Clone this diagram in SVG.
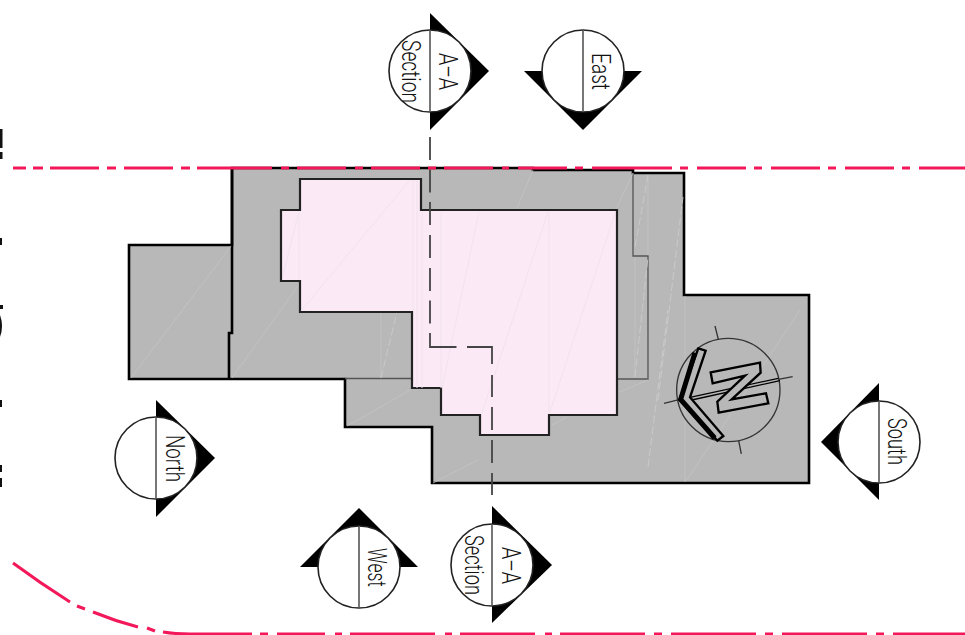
<svg xmlns="http://www.w3.org/2000/svg" width="965" height="635" viewBox="0 0 965 635">
<style>
.site{fill:#b8b8b8;stroke:#000;stroke-width:2.6;stroke-linejoin:miter}
.edge{fill:none;stroke:#000;stroke-width:2.6}
.inner{fill:none;stroke:#555;stroke-width:1.3}
.house{fill:#fbe9f6;stroke:#222;stroke-width:2.2}
.fg{fill:none;stroke:#c4c4c4;stroke-width:.8}
.fgd{fill:none;stroke:#cbcbcb;stroke-width:.9;stroke-dasharray:8 3}
.fp{fill:none;stroke:#f1e3ed;stroke-width:1}
.red{fill:none;stroke:#f2185a;stroke-width:3}
.cut{fill:none;stroke:#444;stroke-width:1.8}
.tri{fill:#000}
.disc{fill:#fff;stroke:#222;stroke-width:1.6}
.axis{stroke:#555;stroke-width:1.6}
text{font-family:"Roboto","Liberation Sans",sans-serif;font-weight:300;font-size:26px;fill:#111}
</style>
<g id="page-edge" fill="#111">
<rect x="0" y="129" width="2.500" height="19"/><rect x="0" y="152" width="2.500" height="7"/><rect x="0" y="238" width="2" height="7"/><rect x="0" y="305" width="3" height="4"/><path d="M0,315Q4,326 0,337Z"/><rect x="0" y="400" width="2" height="7"/><rect x="0" y="465" width="2" height="7"/><rect x="0" y="478" width="2" height="9"/>
</g>
<g id="site">
<path class="site" d="M232,168H533V170H633V173H684V295H809V483H432V427H345V379H129V245H232Z"/>
<path class="edge" d="M232,168V333H229V379"/>
<path class="inner" d="M633,173V256H648V379H617M345,378.500H412"/>
<path class="fg" d="M131,378L231,246M232,378L300,283M347,426L412,389M433,483L478,460M552,425L567,417M517,208L533,170M617,207L633,173M617,393L648,380M381,312V378M635,258V377M648,175V255M685,296V482M687,480L800,310"/>
<path class="fgd" d="M381,378L397,312M635,247L648,175M635,377L648,257M658,400L683,197M648,467L668,310"/>
</g>
<g id="house">
<path class="house" d="M300,179H421V210H617V415H549V435H480V415H441V388H412V312H300V281H281V210H300Z"/>
<path class="fp" d="M301,311L410,180M283,275L298,215M299,211V280M413,180V311M417,180V388M422,212V388M441,212V388M442,388L479,212M482,413L548,212M549,212V414M550,412L615,213"/>
</g>
<g id="connectors">
<path id="section-line" class="cut" d="M430,137V160M430,169.500V192.500M430,202V225M430,235V258M430,268V291M430,300.500V323.500M430,333V347H456.500M467,347H492V364M492,375V397M492,407V430M492,440V463M492,473V495"/>
<path id="boundary-top" class="red" d="M13,168H26M33,168H43M50,168H99M107,168H116M124,168H173M181,168H190M197,168H272M281,168H289M297,168H346M355,168H363M371,168H420M428,168H436M444,168H493M502,168H509M518,168H567M575,168H583M592,168H672M680,168H688M697,168H746M754,168H762M771,168H820M828,168H836M845,168H894M902,168H910M919,168H965"/>
<path id="boundary-bottom" class="red" d="M13,563Q40,583 70,602M77,606L85,609M93,612Q115,621 138,627M147,628L155,631M163,632Q175,634 190,634H252M260,634H268M277,634H325M335,634H342M350,634H435M445,634H452M460,634H535M545,634H552M560,634H645M654,634H662M671,634H756M765,634H773M782,634H867M876,634H884M893,634H965"/>
</g>
<g id="marker-section-top">
<path class="tri" d="M430,13L489,71L430,130Z"/><circle class="disc" cx="430" cy="71" r="41"/><path class="axis" d="M430,30V112"/>
<text transform="translate(402 40) rotate(90)" textLength="63" lengthAdjust="spacingAndGlyphs">Section</text>
<text transform="translate(439 53) rotate(90)" textLength="37" lengthAdjust="spacingAndGlyphs">A–A</text>
</g>
<g id="marker-east">
<path class="tri" d="M524,71H642L583,130Z"/><circle class="disc" cx="583" cy="71" r="41"/><path class="axis" d="M583,30V112"/>
<text transform="translate(592 53) rotate(90)" textLength="37" lengthAdjust="spacingAndGlyphs">East</text>
</g>
<g id="marker-north">
<path class="tri" d="M156,400L215,458L156,517Z"/><circle class="disc" cx="156" cy="458" r="41"/><path class="axis" d="M156,417V499"/>
<text transform="translate(166 435) rotate(90)" textLength="47" lengthAdjust="spacingAndGlyphs">North</text>
</g>
<g id="marker-west">
<path class="tri" d="M300,567L359,508L418,567Z"/><circle class="disc" cx="359" cy="567" r="41"/><path class="axis" d="M359,526V608"/>
<text transform="translate(368 548) rotate(90)" textLength="39" lengthAdjust="spacingAndGlyphs">West</text>
</g>
<g id="marker-section-bottom">
<path class="tri" d="M492,506L552,565L492,623Z"/><circle class="disc" cx="492" cy="565" r="41"/><path class="axis" d="M492,524V606"/>
<text transform="translate(465 535) rotate(90)" textLength="60" lengthAdjust="spacingAndGlyphs">Section</text>
<text transform="translate(502 547) rotate(90)" textLength="37" lengthAdjust="spacingAndGlyphs">A–A</text>
</g>
<g id="marker-south">
<path class="tri" d="M879,383L821,442L879,500Z"/><circle class="disc" cx="879" cy="442" r="41"/><path class="axis" d="M879,401V483"/>
<text transform="translate(888 418) rotate(90)" textLength="47" lengthAdjust="spacingAndGlyphs">South</text>
</g>
<g id="north-point" transform="translate(640 310) scale(.3333)">
<circle cx="265" cy="240" r="155" fill="none" stroke="#333" stroke-width="4"/>
<path fill="none" stroke="#333" stroke-width="4" d="M225,48L235,88M296,392L304,432M72,280L120,268M415,208L458,200"/>
<path fill="none" stroke="#000" stroke-width="4" d="M150,262L415,205M155,270L420,212"/>
<path fill="#b8b8b8" stroke="#000" stroke-width="7" stroke-linejoin="miter" d="M175,115L197,122L150,262L250,378L232,392L118,270Z"/>
<path fill="none" stroke="#000" stroke-width="15" d="M165,128L122,268L224,384"/>
<path fill="#b8b8b8" stroke="#000" stroke-width="7" stroke-linejoin="miter" d="M212,187L360,158L362,188L275,268L378,250L385,280L236,308L232,275L315,197L218,220Z"/>
</g>
</svg>
